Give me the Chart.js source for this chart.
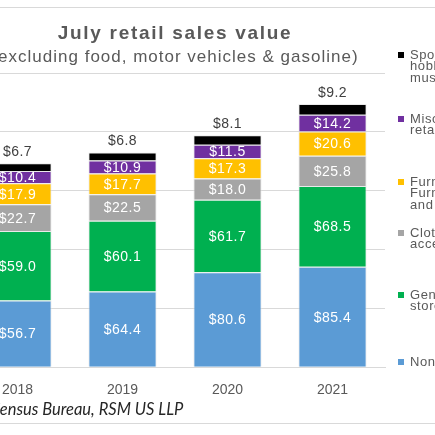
<!DOCTYPE html>
<html>
<head>
<meta charset="utf-8">
<script src="https://cdn.jsdelivr.net/npm/chart.js@4"></script>
<style>
  html, body { margin: 0; padding: 0; background: #fff; overflow: hidden; }
  #chart { position: absolute; left: -120px; top: 0; }
</style>
</head>
<body>
<canvas id="chart" width="594" height="435"></canvas>
<script>
// data ($ billions)
const years = ['2018', '2019', '2020', '2021'];
const nonstore = [56.7, 64.4, 80.6, 85.4];
const general = [59.0, 60.1, 61.7, 68.5];
const clothing = [22.7, 22.5, 18.0, 25.8];
const furniture = [17.9, 17.7, 17.3, 20.6];
const misc = [10.4, 10.9, 11.5, 14.2];
const sporting = [6.7, 6.8, 8.1, 9.2];

const seriesLabels = [
    ['Nonstore'],
    ['General merch.', 'stores'],
    ['Clothing and', 'accessories'],
    ['Furniture,', 'Furnishings', 'and electronics'],
    ['Miscellaneous', 'retailers'],
    ['Sporting goods,', 'hobby, book &', 'music stores']
];
const seriesColors = ['#5B9BD5', '#00B050', '#A5A5A5', '#FFC000', '#7030A0', '#000000'];

const TITLE = 'July retail sales value';
const SUBTITLE = '(excluding food, motor vehicles & gasoline)';

const OFFSET_X = 120; // canvas is shifted left, the picture is a crop
const FONT = "'Liberation Sans', Arial, sans-serif";
const TEXT = '#595959';

// frame lines, values on the bars, legend at right and source note
const decorations = {
    id: 'decorations',
    afterInit(chart) {
        // the title lines in the picture are set a bit wide
        chart.boxes.forEach(box => {
            const txt = box.options && box.options.text;
            if (txt !== TITLE && txt !== SUBTITLE) return;
            const draw = box.draw.bind(box);
            box.draw = (area) => {
                chart.ctx.save();
                chart.ctx.letterSpacing = txt === TITLE ? '1.7px' : '1px';
                draw(area);
                chart.ctx.restore();
            };
        });
    },
    beforeDraw(chart) {
        const ctx = chart.ctx;
        ctx.save();
        ctx.strokeStyle = '#d9d9d9';
        ctx.lineWidth = 1;
        [7.5, 423.5].forEach(y => {
            ctx.beginPath();
            ctx.moveTo(0, y);
            ctx.lineTo(chart.width, y);
            ctx.stroke();
        });
        ctx.restore();
    },
    afterDatasetsDraw(chart) {
        const ctx = chart.ctx;
        ctx.save();
        ctx.font = '14px ' + FONT;
        ctx.letterSpacing = '0.5px';
        ctx.textAlign = 'center';
        chart.data.datasets.forEach((ds, i) => {
            const meta = chart.getDatasetMeta(i);
            meta.data.forEach((bar, j) => {
                const txt = '$' + ds.data[j].toFixed(1);
                if (i === chart.data.datasets.length - 1) {
                    ctx.fillStyle = '#404040';
                    ctx.textBaseline = 'bottom';
                    ctx.fillText(txt, bar.x, bar.y - 4);
                } else {
                    ctx.fillStyle = '#fff';
                    ctx.textBaseline = 'middle';
                    ctx.fillText(txt, bar.x, (bar.y + bar.base) / 2 + 1);
                }
            });
        });
        ctx.restore();
    },
    afterDraw(chart) {
        const ctx = chart.ctx;
        ctx.save();
        // legend, top item first
        const tops = [362, 295, 233, 182, 119, 55];
        const lx = 398 + OFFSET_X;
        ctx.font = '13px ' + FONT;
        ctx.letterSpacing = '0.6px';
        ctx.textBaseline = 'middle';
        ctx.textAlign = 'left';
        seriesLabels.forEach((lines, i) => {
            ctx.fillStyle = seriesColors[i];
            ctx.fillRect(lx, tops[i] - 3, 6, 6);
            ctx.fillStyle = TEXT;
            lines.forEach((line, k) => ctx.fillText(line, lx + 12, tops[i] + k * 11.8));
        });
        // source note
        ctx.letterSpacing = '0px';
        ctx.font = "italic 16.5px Lato, 'Open Sans', sans-serif";
        ctx.fillStyle = '#262626';
        const lead = ctx.measureText('Source: U.S. C').width;
        ctx.fillText('Source: U.S. Census Bureau, RSM US LLP', OFFSET_X - lead, 410);
        ctx.restore();
    }
};

const datasets = [nonstore, general, clothing, furniture, misc, sporting].map((values, i) => ({
    label: seriesLabels[i].join(' '),
    data: values,
    backgroundColor: seriesColors[i],
    borderColor: 'rgba(225,225,225,0.7)',
    borderWidth: 1,
    barPercentage: 1,
    categoryPercentage: 0.65
}));

new Chart(document.getElementById('chart'), {
    type: 'bar',
    data: { labels: years, datasets: datasets },
    options: {
        responsive: false,
        devicePixelRatio: 1,
        animation: false,
        layout: { padding: { left: 85, right: 89, top: 0, bottom: 21 } },
        plugins: {
            legend: { display: false },
            tooltip: { enabled: false },
            title: {
                display: true,
                text: TITLE,
                color: TEXT,
                font: { family: FONT, size: 19, weight: 'bold' },
                padding: { top: 22, bottom: 2 }
            },
            subtitle: {
                display: true,
                text: SUBTITLE,
                color: TEXT,
                font: { family: FONT, size: 17 },
                padding: { top: 0, bottom: 5.8 }
            }
        },
        scales: {
            x: {
                stacked: true,
                grid: { display: false, drawTicks: false },
                border: { display: true, color: '#d9d9d9' },
                ticks: { color: TEXT, font: { family: FONT, size: 14 }, padding: 15, maxRotation: 0 }
            },
            y: {
                stacked: true,
                min: 0,
                max: 250,
                ticks: { display: false, stepSize: 50 },
                grid: { color: '#d9d9d9', drawTicks: false },
                border: { display: false },
                afterFit(scale) { scale.width = 0; }
            }
        }
    },
    plugins: [decorations]
});
</script>
</body>
</html>
